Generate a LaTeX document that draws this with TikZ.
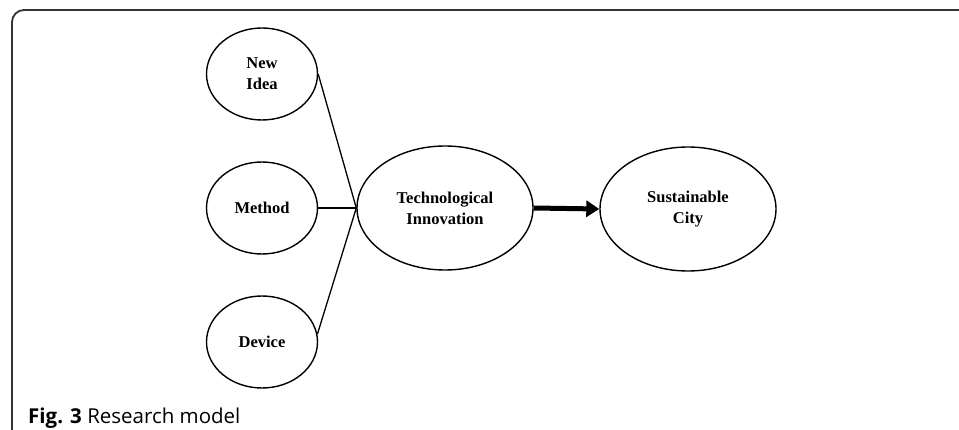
\documentclass[tikz,border=0pt]{standalone}
\usepackage{fontspec}
\setmainfont{Liberation Serif}
\newfontfamily\capfont{Open Sans}
\usetikzlibrary{arrows.meta,shapes.geometric}
\begin{document}
\begin{tikzpicture}[x=1pt,y=-1pt,
  oval/.style={ellipse, draw, line width=1.4pt, inner sep=0pt, align=center,
    font=\fontsize{16.5}{21}\selectfont\bfseries},
  small/.style={oval, minimum width=111pt, minimum height=92pt},
  big/.style={oval, minimum width=176pt, minimum height=124pt},
  link/.style={line width=1.3pt},
  frame/.style={line width=1.8pt, draw=black!80, rounded corners=12pt}]
\useasboundingbox (0,0) rectangle (959,430);
\coordinate (fb) at (12,431);
\coordinate (ftl) at (12,10);
\coordinate (fr) at (960,10);
\draw[frame] (fb) -- (ftl) -- (fr);
\node[small] (ni) at (262,74) {New\\Idea};
\node[small] (me) at (262,208) {Method};
\node[small] (dv) at (262,342) {Device};
\node[big] (ti) at (445,208) {Technological\\Innovation};
\node[big] (sc) at (688,209) {Sustainable\\City};
\draw[link] (ni.east) -- (ti.west);
\draw[link] (me.east) -- (ti.west);
\draw[link] (dv.8) -- (ti.west);
\draw[line width=5pt, -{Triangle[length=13pt,width=16pt]}] (ti.east) -- (sc.west);
\node[anchor=base west, inner sep=0pt, font=\capfont\fontsize{20.5}{24}\selectfont] (cap) at (28,423) {\textbf{Fig. 3} Research model};
\end{tikzpicture}
\end{document}
